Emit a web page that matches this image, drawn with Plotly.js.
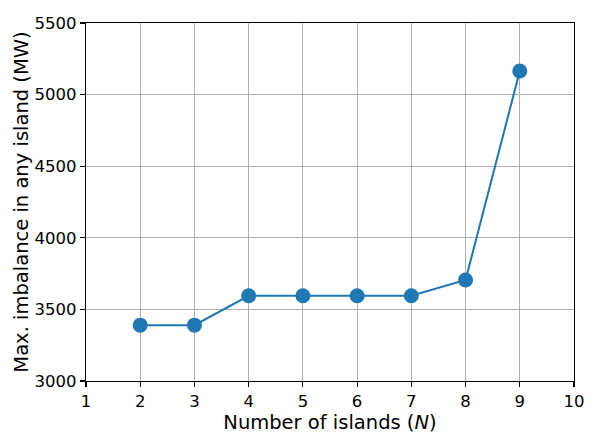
<!DOCTYPE html>
<html><head><meta charset="utf-8">
<script src="https://cdn.plot.ly/plotly-3.0.1.min.js"></script>
<style>body{margin:0;padding:0;background:#fff}#chart{width:598px;height:436px}</style>
</head><body><div id="chart"></div>
<script>
const islands = [2, 3, 4, 5, 6, 7, 8, 9];
const imbalance = [3390, 3390, 3595, 3595, 3595, 3595, 3705, 5165];
const xTicks = [1, 2, 3, 4, 5, 6, 7, 8, 9, 10];
const yTicks = [3000, 3500, 4000, 4500, 5000, 5500];

const font = {family: 'DejaVu Sans, sans-serif', color: '#000'};
const axisCommon = {
  showline: true, linecolor: '#000', linewidth: 1.2, mirror: true,
  ticks: 'outside', ticklen: 5, tickwidth: 1.2, tickcolor: '#000',
  showgrid: true, gridcolor: '#b0b0b0', gridwidth: 1.2,
  zeroline: false, tickfont: {family: font.family, size: 16.5, color: '#000'}
};
Plotly.newPlot('chart', [{
  x: islands, y: imbalance, type: 'scatter', mode: 'lines+markers',
  line: {color: '#1f77b4', width: 2},
  marker: {color: '#1f77b4', size: 15},
  hoverinfo: 'x+y'
}], {
  width: 598, height: 436,
  margin: {l: 86, r: 24, t: 23, b: 55},
  paper_bgcolor: '#fff', plot_bgcolor: '#fff',
  showlegend: false,
  xaxis: Object.assign({}, axisCommon, {
    range: [1, 10], tickvals: xTicks, ticktext: xTicks.map(String),
    title: {text: 'Number of islands (<i>N</i>)', font: {family: font.family, size: 19.5, color: '#000'}, standoff: 1}
  }),
  yaxis: Object.assign({}, axisCommon, {
    range: [3000, 5500], tickvals: yTicks, ticktext: yTicks.map(String),
    title: {text: 'Max. imbalance in any island (MW)', font: {family: font.family, size: 19.5, color: '#000'}, standoff: 0}
  })
}, {displayModeBar: false, staticPlot: true});
</script></body></html>
